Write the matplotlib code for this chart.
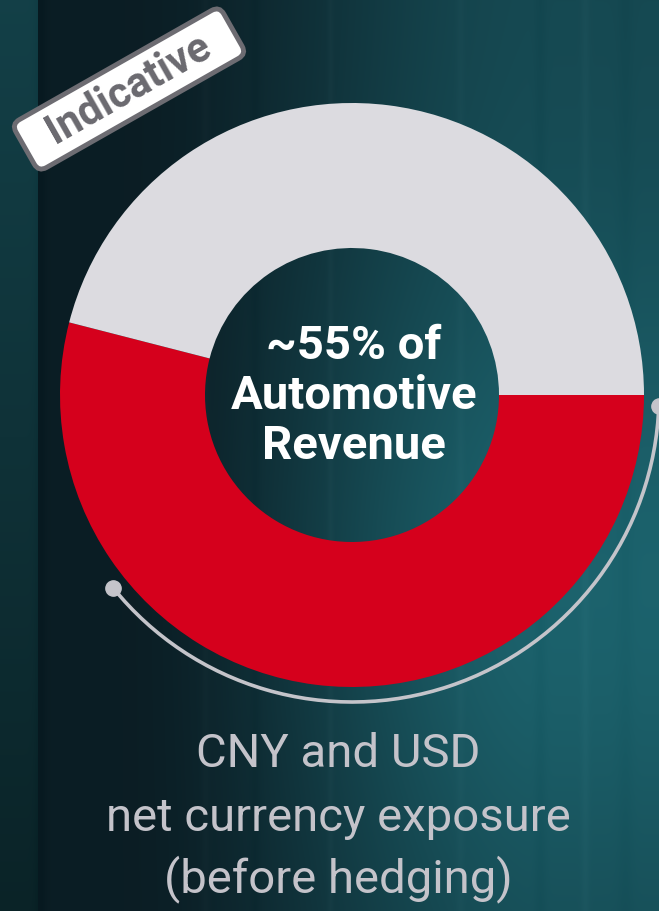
import numpy as np
import matplotlib
matplotlib.use("Agg")
import matplotlib.pyplot as plt
from matplotlib.patches import Arc, FancyBboxPatch
from matplotlib.transforms import Affine2D

# ---- data ----
shares = [54, 46]
segment_labels = ["CNY and USD net exposure", "Other"]
segment_colors = ["#d5001c", "#dcdbe0"]
center_text = ["~55% of", "Automotive", "Revenue"]
caption_lines = ["CNY and USD", "net currency exposure", "(before hedging)"]
badge_text = "Indicative"

W, H = 659, 911
fig = plt.figure(figsize=(W / 100, H / 100), dpi=100)
ax = fig.add_axes([0, 0, 1, 1])
ax.set_axis_off()

# ---- background gradient ----
X, Y = np.meshgrid(np.arange(W), np.arange(H))
dark = np.array([0.043, 0.115, 0.142])
teal = np.array([0.11, 0.385, 0.425])
tx = np.clip((X - 110) / 440.0, 0, 1)
tx = tx * tx * (3 - 2 * tx)
v = 0.62 + 0.38 * np.exp(-((Y - 580) / 320.0) ** 2)
t = tx * v
img = dark[None, None, :] + (teal - dark)[None, None, :] * t[..., None]
# left strip
strip = X < 38
sc = np.array([0.075, 0.25, 0.28])
fade = (1 - 0.45 * (Y / H))[..., None]
img = np.where(strip[..., None], sc[None, None, :] * fade, img)
# subtle vertical streaks
streak = np.zeros(W)
for cx, w, a in [(40, 6, -0.015), (205, 4, 0.012), (255, 5, -0.01), (330, 3, 0.015),
                 (460, 4, 0.012), (540, 6, -0.012), (585, 4, 0.015), (625, 8, -0.01)]:
    streak += a * np.exp(-((np.arange(W) - cx) / w) ** 2)
img = np.clip(img + streak[None, :, None], 0, 1)
ax.imshow(img, extent=(0, W, 0, H), origin="upper", zorder=0, interpolation="bilinear")

# ---- donut ----
cx, cy = 352, H - 395
R_out, R_in = 292, 147
ax.pie(shares, colors=segment_colors, startangle=0, counterclock=False,
       radius=R_out, center=(cx, cy),
       wedgeprops=dict(width=R_out - R_in, linewidth=0))

# ---- surrounding arc with dots ----
R_arc = 307
th1, th2 = 219, 358
ax.add_patch(Arc((cx, cy), 2 * R_arc, 2 * R_arc, theta1=th1, theta2=th2,
                 color="#c4c4ca", lw=2.6, zorder=3))
for th in (th1, th2):
    ax.plot(cx + R_arc * np.cos(np.radians(th)), cy + R_arc * np.sin(np.radians(th)),
            "o", ms=11, color="#c4c4ca", zorder=4)

# ---- center text ----
for i, line in enumerate(center_text):
    ax.text(354, H - (346 + 50 * i), line, ha="center", va="center",
            fontsize=34, fontweight="bold", color="white",
            family=["Roboto", "DejaVu Sans"], zorder=5)

# ---- caption ----
for i, (line, yy) in enumerate(zip(caption_lines, [754, 818, 879])):
    ax.text(338, H - yy, line, ha="center", va="center",
            fontsize=34, fontweight="normal", color="#c4c3ca",
            family=["Roboto", "DejaVu Sans"], zorder=5)

# ---- badge ----
bx, by, ang = 129, H - 89, 29.6
tr = Affine2D().rotate_deg(ang).translate(bx, by) + ax.transData
ax.add_patch(FancyBboxPatch((-119.5, -27.5), 239, 55,
                            boxstyle="round,pad=0,rounding_size=9",
                            fc="white", ec="#6d6c72", lw=3.5, transform=tr, zorder=6))
ax.text(bx, by, badge_text, rotation=ang, rotation_mode="anchor",
        ha="center", va="center", fontsize=30, fontweight="bold",
        color="#6a696f", family=["Roboto", "DejaVu Sans"], zorder=7)

ax.set_xlim(0, W)
ax.set_ylim(0, H)
ax.set_aspect("equal")
fig.savefig("out.png", dpi=100)
